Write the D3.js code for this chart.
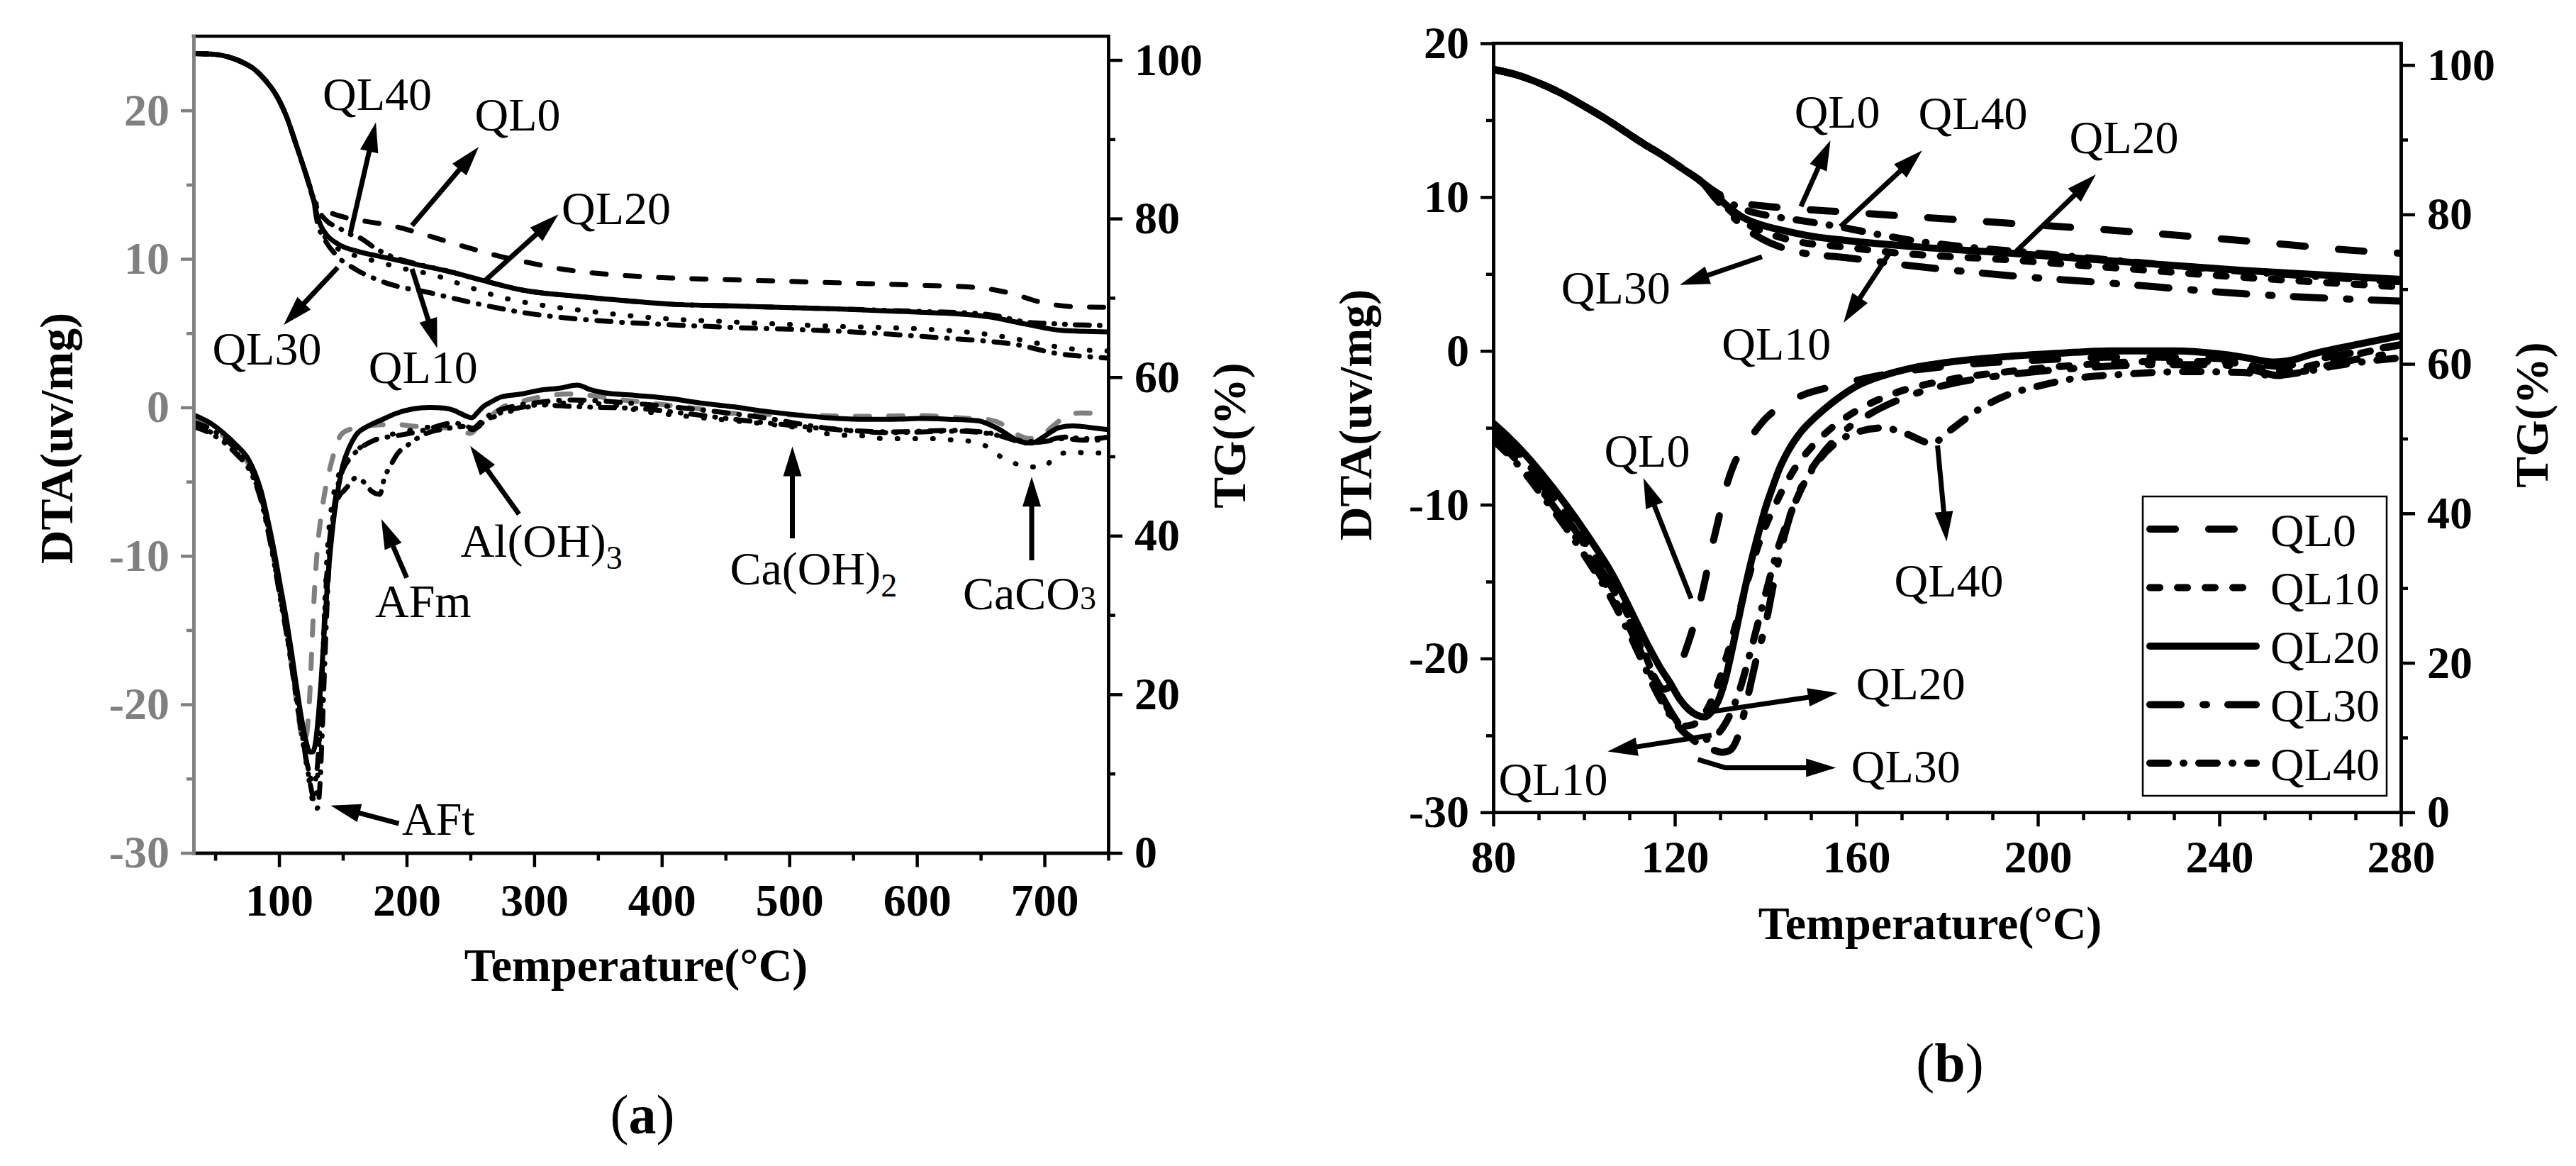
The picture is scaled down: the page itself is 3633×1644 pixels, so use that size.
<!DOCTYPE html>
<html>
<head>
<meta charset="utf-8">
<script src="https://cdn.jsdelivr.net/npm/d3@7"></script>
<style>
  body { margin: 0; background: #fff; }
  svg { display: block; }
</style>
</head>
<body>
<div class="figure"></div>
<script>
// series names and tick labels
const series = ['QL0', 'QL10', 'QL20', 'QL30', 'QL40'];
const aTempTicks = [100, 200, 300, 400, 500, 600, 700];
const aDtaTicks = [-30, -20, -10, 0, 10, 20];
const aTgTicks = [0, 20, 40, 60, 80, 100];
const bTempTicks = [80, 120, 160, 200, 240, 280];
const bDtaTicks = [-30, -20, -10, 0, 10, 20];
const bTgTicks = [0, 20, 40, 60, 80, 100];

// ---- panel (a): TG (%) vs temperature, [T, TG]
const aTgStart = [[33,100.8],[50,100.7],[60,100.4],[70,99.8],[80,98.9],[90,97.3],[98,95.5],[106,92.8],[112,90.0],[118,87.1],[123,84.6],[127,82.4]];
const aTgQL0 = [[131,81.6],[138,80.9],[146,80.4],[163,79.8],[191,79.0],[205,78.4],[228,77.3],[251,76.2],[274,75.2],[297,74.4],[319,73.7],[342,73.2],[364,72.9],[407,72.5],[450,72.3],[537,71.9],[600,71.6],[647,71.3],[673,70.6],[696,69.5],[721,68.9],[750,68.8]];
const aTgQL10 = [[130,80.0],[135,78.0],[146,76.2],[160,75.3],[176,74.6],[200,73.6],[221,72.9],[248,71.4],[276,70.0],[305,69.1],[333,68.5],[378,67.7],[400,67.4],[450,67.0],[537,66.4],[600,66.1],[650,65.5],[675,64.9],[700,64.1],[725,63.5],[750,63.3]];
const aTgQL20 = [[130,80.3],[133,79.0],[137,78.0],[146,76.8],[163,75.8],[180,75.2],[205,74.3],[234,73.3],[262,72.1],[290,71.0],[333,70.2],[375,69.6],[407,69.2],[450,69.0],[537,68.6],[600,68.2],[630,68.0],[657,67.6],[685,66.7],[713,65.9],[750,65.7]];
const aTgQL30 = [[130,79.5],[135,77.6],[146,75.2],[160,73.6],[180,72.1],[222,70.5],[254,69.3],[293,68.1],[361,67.0],[407,66.6],[450,66.3],[537,65.8],[580,65.4],[624,64.9],[650,64.6],[678,64.1],[709,63.0],[741,62.5],[750,62.4]];
const aTgQL40 = [[131,81.0],[138,79.6],[146,78.9],[156,78.0],[163,77.6],[176,76.2],[190,75.1],[205,74.4],[234,73.3],[262,72.1],[290,71.0],[333,70.2],[375,69.6],[407,69.2],[450,69.0],[537,68.6],[600,68.3],[650,68.0],[660,67.8],[688,66.9],[699,66.8],[725,66.6],[750,66.5]];

// ---- panel (a): DTA (uv/mg) vs temperature, [T, DTA]
const aDtaQL0 = [[33,-0.8],[45,-1.2],[56,-1.9],[66,-2.7],[76,-3.8],[81,-4.7],[86,-6.0],[91,-7.9],[96,-10.2],[101,-12.7],[106,-15.2],[110,-17.5],[113,-19.4],[115.5,-21.0],[118,-22.3],[120,-22.6],[122,-21.8],[124,-19.5],[126.3,-15.0],[128,-12.0],[130,-9.6],[132.5,-7.6],[135.5,-5.9],[138.5,-4.6],[141.7,-3.5],[145,-2.5],[149,-1.8],[155,-1.5],[165,-1.3],[190,-1.15],[210,-1.3],[235,-1.4],[244,-1.6],[250,-1.75],[256,-1.3],[262,-0.8],[270,-0.3],[277,0.1],[290,0.4],[305,0.7],[327,0.9],[345,0.8],[360,0.6],[380,0.4],[400,0.2],[430,-0.1],[456,-0.4],[500,-0.5],[560,-0.6],[604,-0.55],[625,-0.65],[640,-0.74],[654,-0.8],[666,-1.1],[676,-1.7],[688,-2.1],[696,-2.0],[706,-1.3],[716,-0.65],[728,-0.37],[740,-0.4],[750,-0.45]];
const aDtaQL10 = [[33,-1.2],[45,-1.6],[56,-2.2],[66,-3.0],[76,-4.0],[81,-4.9],[86,-6.2],[91,-8.1],[96,-10.3],[101,-12.8],[106,-15.2],[110,-17.5],[113,-19.3],[116,-21.1],[119,-22.7],[122,-24.3],[124.5,-25.6],[127,-26.7],[129,-26.2],[131,-23.5],[133,-19.5],[135,-15.0],[137,-11.0],[139,-8.3],[141.5,-6.5],[145,-5.0],[150,-4.0],[158,-3.1],[170,-2.4],[185,-1.9],[200,-1.6],[220,-1.3],[235,-1.2],[245,-1.3],[252,-1.5],[258,-1.2],[265,-0.8],[280,-0.3],[300,0.1],[330,0.3],[360,0.2],[381,-0.2],[420,-0.6],[456,-0.9],[505,-1.35],[537,-1.85],[555,-1.9],[574,-2.1],[615,-2.1],[629,-2.2],[643,-2.3],[654,-2.6],[668,-3.45],[682,-3.9],[690,-4.0],[700,-4.0],[708,-3.3],[722,-3.0],[736,-3.1],[750,-3.0]];
const aDtaQL20 = [[33,-0.5],[45,-1.0],[56,-1.7],[66,-2.5],[76,-3.5],[81,-4.4],[86,-5.65],[91,-7.5],[96,-9.6],[101,-12.0],[106,-14.4],[110,-16.6],[113,-18.4],[116,-20.1],[119,-21.6],[121.5,-22.6],[124,-23.2],[126.5,-23.2],[129,-22.3],[131,-20.6],[133,-18.4],[135.5,-15.0],[138,-11.8],[140.5,-9.4],[143,-7.4],[146.5,-5.4],[150,-3.9],[155,-2.7],[160,-1.9],[170,-1.25],[180,-0.85],[192,-0.4],[205,-0.1],[218,0.0],[230,-0.05],[237,-0.2],[242,-0.4],[247,-0.6],[251,-0.7],[255,-0.4],[260,0.05],[267,0.4],[274,0.7],[290,0.9],[304,1.15],[320,1.3],[334,1.5],[344,1.2],[354,1.0],[381,0.8],[406,0.6],[430,0.3],[456,0.04],[480,-0.25],[505,-0.5],[530,-0.7],[555,-0.8],[580,-0.8],[602,-0.75],[625,-0.8],[648,-0.9],[658,-1.2],[666,-1.55],[674,-2.0],[681,-2.3],[690,-2.4],[699,-2.0],[706,-1.6],[712,-1.35],[722,-1.25],[731,-1.3],[740,-1.4],[750,-1.5]];
const aDtaQL30 = [[33,-1.0],[45,-1.4],[56,-2.0],[66,-2.8],[76,-3.8],[81,-4.7],[86,-6.0],[91,-7.9],[96,-10.1],[101,-12.6],[106,-15.0],[110,-17.2],[113,-19.0],[116,-20.8],[119,-22.5],[122,-24.2],[125,-25.6],[127.5,-26.6],[130,-27.0],[132,-25.5],[134,-21.5],[136,-16.8],[138,-12.6],[140,-9.5],[142.5,-7.2],[146,-5.3],[150,-4.2],[156,-3.4],[163,-2.8],[175,-2.2],[192.5,-1.9],[205,-1.7],[215,-1.5],[237,-1.05],[245,-1.2],[252,-1.4],[258,-1.0],[265,-0.5],[280,0.0],[300,0.3],[330,0.5],[381,0.25],[431,-0.17],[480,-0.7],[535,-1.45],[580,-1.65],[629,-1.55],[655,-1.7],[672,-2.1],[686,-2.4],[700,-2.3],[716,-2.1],[730,-2.2],[740,-2.2],[750,-2.1]];
const aDtaQL40 = [[33,-1.3],[45,-1.7],[56,-2.3],[66,-3.1],[76,-4.1],[81,-5.0],[86,-6.3],[91,-8.2],[96,-10.4],[101,-12.9],[106,-15.3],[110,-17.5],[113,-19.2],[116,-21.0],[119,-22.6],[122,-24.0],[125,-25.0],[127.5,-25.3],[130,-24.2],[132,-21.5],[134,-17.5],[136,-13.5],[138,-10.5],[140,-8.6],[143,-7.1],[147,-6.0],[151,-5.6],[155,-5.2],[160,-4.75],[166,-5.0],[172.7,-5.65],[179,-5.85],[182.6,-4.75],[187.5,-3.9],[193,-3.1],[200,-2.6],[208,-2.1],[217,-1.7],[230,-1.45],[242,-1.3],[248,-1.4],[252,-1.5],[260,-1.0],[270,-0.5],[279,-0.2],[290,0.0],[304,0.17],[329,0.07],[350,0.0],[378.6,-0.06],[418,-0.4],[456,-0.8],[500,-1.2],[537,-1.5],[580,-1.7],[629,-1.6],[655,-1.75],[672,-2.05],[686,-2.3],[700,-2.25],[716,-2.0],[730,-2.1],[740,-2.1],[750,-2.0]];

// ---- panel (b): TG (%) vs temperature, [T, TG]
const bTgStart = [[80,99.4],[85,98.7],[90,97.6],[95,96.2],[100,94.5],[105,92.7],[109,91.1],[113,89.5],[117.6,87.8],[122,86.0],[126,84.3]];
const bTgQL0 = [[129,83.0],[132,82.0],[135,81.5],[140,81.1],[143.5,80.9],[158,80.3],[187,79.1],[216,77.9],[245,76.5],[274,75.0],[280,74.8]];
const bTgQL10 = [[129,82.4],[132,80.6],[135,79.1],[140,77.6],[146,76.5],[158,75.6],[168,74.9],[194,73.9],[216,72.9],[245,71.6],[280,70.3]];
const bTgQL20 = [[129,82.6],[132,80.9],[135,79.6],[139,78.6],[143.5,77.9],[150,77.1],[158,76.5],[172.5,75.7],[194,74.8],[216,73.8],[245,72.5],[280,71.3]];
const bTgQL30 = [[129,82.1],[132,80.2],[135,78.4],[139,76.8],[143,75.7],[147,75.0],[158,74.2],[172.5,73.1],[194,71.8],[216,70.8],[245,69.4],[280,68.4]];
const bTgQL40 = [[129,82.8],[132,81.6],[136,80.5],[141,79.8],[146.5,79.3],[156.6,78.3],[165,77.3],[172.5,76.5],[185,75.6],[200,74.8],[216,73.9],[245,72.4],[280,71.0]];

// ---- panel (b): DTA (uv/mg) vs temperature, [T, DTA]
const bDtaQL0 = [[80,-5.3],[86,-7.0],[91,-8.8],[96,-10.8],[101,-13.0],[106,-15.3],[110,-17.6],[113,-19.6],[115.5,-21.2],[117.5,-22.0],[119,-21.8],[120.5,-20.9],[122,-19.8],[123.5,-18.5],[125,-17.0],[126.6,-15.0],[128,-13.0],[129.6,-11.0],[131,-9.2],[133,-7.4],[135,-6.3],[137,-5.5],[140,-4.4],[144,-3.5],[148,-2.9],[155,-2.3],[165,-1.6],[180,-1.0],[200,-0.6],[220,-0.4],[240,-0.5],[246,-0.7],[253,-1.0],[258,-0.8],[264,-0.4],[272,0.0],[280,0.4]];
const bDtaQL10 = [[80,-5.0],[86,-6.8],[91,-8.6],[96,-10.6],[101,-12.8],[106,-15.0],[110,-17.4],[113,-19.4],[116,-21.6],[118,-23.0],[120,-24.0],[122,-24.4],[124,-24.3],[126,-23.8],[128,-22.8],[130,-21.2],[132,-19.3],[134,-17.2],[136,-15.0],[138,-13.0],[140,-11.4],[142,-10.1],[144,-8.9],[147,-7.4],[150,-6.3],[155,-4.9],[160,-3.9],[168,-2.8],[180,-1.9],[195,-1.3],[210,-0.9],[225,-0.7],[240,-0.7],[246,-0.9],[253,-1.3],[258,-1.1],[265,-0.6],[272,-0.1],[280,0.4]];
const bDtaQL20 = [[80,-4.7],[83,-5.5],[86,-6.4],[91,-8.1],[96,-10.0],[101,-12.1],[106,-14.4],[110,-16.7],[114,-19.1],[117,-20.7],[119,-21.6],[121,-22.6],[123,-23.3],[125,-23.7],[126.5,-23.8],[128,-23.5],[129.5,-22.8],[131,-21.5],[132.5,-19.6],[134,-17.5],[135.5,-15.4],[137,-13.5],[138.5,-11.8],[140,-10.2],[141.5,-8.9],[143,-7.7],[145,-6.5],[148,-5.2],[151,-4.3],[155,-3.3],[160,-2.3],[166,-1.6],[172.5,-1.1],[180,-0.75],[194,-0.35],[205,-0.15],[216,0.0],[230,0.0],[240,-0.2],[245,-0.4],[252,-0.73],[256,-0.6],[260,-0.25],[270,0.4],[280,1.0]];
const bDtaQL30 = [[80,-5.5],[86,-7.4],[91,-9.2],[96,-11.2],[101,-13.4],[106,-15.8],[110,-18.0],[113,-19.9],[116,-21.8],[119,-23.4],[122,-24.7],[125,-25.5],[128,-25.9],[130.5,-26.1],[132,-26.0],[134,-25.0],[136,-22.6],[138,-20.0],[140,-17.8],[142,-14.8],[144,-12.2],[146,-10.2],[148.5,-8.5],[152,-6.9],[157,-5.3],[163,-4.1],[170,-3.1],[180,-2.2],[195,-1.5],[210,-1.1],[225,-0.9],[240,-0.9],[247,-1.2],[253,-1.6],[259,-1.3],[266,-0.8],[273,-0.4],[280,-0.1]];
const bDtaQL40 = [[80,-5.8],[86,-7.6],[91,-9.5],[96,-11.5],[101,-13.7],[106,-16.1],[110,-18.4],[113,-20.3],[116,-22.2],[119,-23.7],[122,-24.8],[125,-25.3],[128,-25.2],[131,-24.3],[134,-22.3],[137,-19.2],[140,-15.8],[143,-12.6],[145.5,-10.6],[148,-8.9],[151,-7.4],[155,-6.1],[160,-5.3],[166,-5.0],[171,-5.4],[176.6,-6.0],[181,-5.1],[186,-4.0],[193,-2.9],[200,-2.3],[206,-1.9],[220,-1.5],[233,-1.35],[245,-1.4],[252,-1.6],[258,-1.4],[265,-1.0],[272,-0.7],[280,-0.45]];

// annotations: label position and arrow points are in data units (T, DTA)
const aNotes = [
  {parts: [['QL40']], at: [177, 20.05], anchor: 'middle', arrow: [[156, 11.76], [175.9, 19.2]]},
  {parts: [['QL0']], at: [287, 18.64], anchor: 'middle', arrow: [[204.2, 12.25], [256.5, 17.54]]},
  {parts: [['QL20']], at: [364.3, 12.33], anchor: 'middle', arrow: [[260.9, 8.49], [319, 13.0]]},
  {parts: [['QL30']], at: [90.5, 2.88], anchor: 'middle', arrow: [[146, 9.42], [103.6, 5.55]]},
  {parts: [['QL10']], at: [213, 1.64], anchor: 'middle', arrow: [[204.2, 9.33], [224, 3.98]]},
  {parts: [['AFm']], at: [213, -14.1], anchor: 'middle', arrow: [[200.1, -11.47], [180.2, -7.52]]},
  {parts: [['Al(OH)'], ['3', 'sub']], at: [242.2, -10.04], anchor: 'start', arrow: [[288.1, -7.19], [249.8, -2.59]]},
  {parts: [['AFt']], at: [196.4, -28.78], anchor: 'start', arrow: [[193.9, -28.02], [140.5, -26.81]]},
  {parts: [['Ca(OH)'], ['2', 'sub']], at: [453.5, -11.9], anchor: 'start', arrow: [[502.4, -8.82], [502.4, -2.63]]},
  {parts: [['CaCO'], ['3', 'small']], at: [636, -13.6], anchor: 'start', arrow: [[690, -10.3], [690, -4.67]]}
];
const bNotes = [
  {parts: [['QL0']], at: [155.8, 14.51], anchor: 'middle', arrow: [[147.8, 9.39], [154.3, 13.68]]},
  {parts: [['QL40']], at: [185.7, 14.42], anchor: 'middle', arrow: [[156.5, 8.08], [174.5, 13.02]]},
  {parts: [['QL20']], at: [219, 12.85], anchor: 'middle', arrow: [[194.8, 6.35], [212.8, 11.47]]},
  {parts: [['QL30']], at: [107, 3.06], anchor: 'middle', arrow: [[139.2, 6.12], [121.1, 4.29]]},
  {parts: [['QL10']], at: [142.4, -0.57], anchor: 'middle', arrow: [[167.3, 6.35], [157.2, 1.83]]},
  {parts: [['QL0']], at: [113.9, -7.53], anchor: 'middle', arrow: [[123.6, -16.1], [113.1, -8.27]]},
  {parts: [['QL40']], at: [180.4, -15.99], anchor: 'middle', arrow: [[177.9, -6.15], [179.9, -12.39]]},
  {parts: [['QL20']], at: [172, -22.65], anchor: 'middle', arrow: [[127, -23.5], [155.9, -22.24]]},
  {parts: [['QL10']], at: [93.2, -28.9], anchor: 'middle', arrow: [[128.1, -24.98], [105.2, -26.04]]},
  {parts: [['QL30']], at: [170.9, -28.05], anchor: 'middle', arrow: [[125.1, -26.57], [131.1, -27.1], [155.5, -27.1]]}
];

// ---- styles
const FONT = '"Liberation Serif", "Times New Roman", Times, serif';
const GREY = '#808080';
const aDash = {QL0: '20,27', QL10: '1,24', QL20: null, QL30: '20,15,1,15', QL40: '20,14,1,14,1,14'};
const bDash = {QL0: '36,47', QL10: '14,25', QL20: null, QL30: '44,31,5,30', QL40: '26,21,1,21'};

const svg = d3.select('.figure').append('svg')
  .attr('width', 3633).attr('height', 1644)
  .style('background', '#fff');

const panels = [
  {id: 'a', left: 273, right: 1563, top: 51, bottom: 1202.5,
   tDomain: [33, 750], dDomain: [-30, 25], gDomain: [0, 103],
   tTicks: aTempTicks, tMinor: d3.range(50, 751, 100), dTicks: aDtaTicks, dMinor: d3.range(-25, 25, 10),
   gTicks: aTgTicks, gMinor: d3.range(10, 100, 20),
   tg: {QL0: aTgStart.concat(aTgQL0), QL10: aTgStart.concat(aTgQL10), QL20: aTgStart.concat(aTgQL20), QL30: aTgStart.concat(aTgQL30), QL40: aTgStart.concat(aTgQL40)},
   dta: {QL0: aDtaQL0, QL10: aDtaQL10, QL20: aDtaQL20, QL30: aDtaQL30, QL40: aDtaQL40},
   dash: aDash, lw: 7, dtaColor: {QL0: GREY}, leftColor: GREY, xPad: 23, notes: aNotes,
   dtaTitle: [102, 618], tgTitle: [1756, 614], xTitle: [897, 1383], tag: [906, 1598], tagText: 'a'},
  {id: 'b', left: 2106, right: 3386, top: 61, bottom: 1145.3,
   tDomain: [80, 280], dDomain: [-30, 20], gDomain: [0, 102.9],
   tTicks: bTempTicks, tMinor: d3.range(90, 280, 10).filter(v => (v - 80) % 40 !== 0), dTicks: bDtaTicks, dMinor: d3.range(-25, 20, 10),
   gTicks: bTgTicks, gMinor: d3.range(10, 100, 20),
   tg: {QL0: bTgStart.concat(bTgQL0), QL10: bTgStart.concat(bTgQL10), QL20: bTgStart.concat(bTgQL20), QL30: bTgStart.concat(bTgQL30), QL40: bTgStart.concat(bTgQL40)},
   dta: {QL0: bDtaQL0, QL10: bDtaQL10, QL20: bDtaQL20, QL30: bDtaQL30, QL40: bDtaQL40},
   dash: bDash, lw: 10, dtaColor: {}, leftColor: '#000', xPad: 19, notes: bNotes,
   dtaTitle: [1934, 585], tgTitle: [3593, 585], xTitle: [2722, 1324], tag: [2750, 1525], tagText: 'b',
   legend: {x: 3022, y: 700, w: 344, h: 422}}
];

function styleAxis(sel, color, fs) {
  sel.attr('font-family', FONT).attr('font-size', fs).attr('font-weight', 'bold');
  sel.select('.domain').attr('stroke', color).attr('stroke-width', 4.5).attr('stroke-linecap', 'square');
  sel.selectAll('.tick line').attr('stroke', color).attr('stroke-width', 4.5);
  sel.selectAll('.tick text').attr('fill', color);
}

function arrow(g, pts, x, y) {
  const p = pts.map(d => [x(d[0]), y(d[1])]);
  const n = p.length;
  const [x1, y1] = p[n - 2], [x2, y2] = p[n - 1];
  const len = Math.hypot(x2 - x1, y2 - y1);
  const ux = (x2 - x1) / len, uy = (y2 - y1) / len;
  const head = 42, half = 13;
  const line = p.slice(0, n - 1).concat([[x2 - ux * (head - 6), y2 - uy * (head - 6)]]);
  g.append('path').attr('d', d3.line()(line))
    .attr('fill', 'none').attr('stroke', '#000').attr('stroke-width', 7).attr('stroke-linejoin', 'round');
  const bx = x2 - ux * head, by = y2 - uy * head;
  g.append('path')
    .attr('d', `M${x2},${y2}L${bx - uy * half},${by + ux * half}L${bx + uy * half},${by - ux * half}Z`)
    .attr('fill', '#000');
}

panels.forEach(p => {
  const g = svg.append('g').attr('class', 'panel-' + p.id);
  const x = d3.scaleLinear().domain(p.tDomain).range([p.left, p.right]);
  const yD = d3.scaleLinear().domain(p.dDomain).range([p.bottom, p.top]);
  const yG = d3.scaleLinear().domain(p.gDomain).range([p.bottom, p.top]);

  svg.append('clipPath').attr('id', 'clip-' + p.id)
    .append('rect').attr('x', p.left).attr('y', p.top)
    .attr('width', p.right - p.left).attr('height', p.bottom - p.top);
  const plot = g.append('g').attr('clip-path', `url(#clip-${p.id})`);

  // curves
  const lineD = d3.line().x(d => x(d[0])).y(d => yD(d[1])).curve(d3.curveMonotoneX);
  const lineG = d3.line().x(d => x(d[0])).y(d => yG(d[1])).curve(d3.curveMonotoneX);
  series.forEach(s => {
    plot.append('path').attr('d', lineG(p.tg[s]))
      .attr('fill', 'none').attr('stroke', '#000').attr('stroke-width', p.lw)
      .attr('stroke-linecap', 'round').attr('stroke-linejoin', 'round')
      .attr('stroke-dasharray', p.dash[s]);
    plot.append('path').attr('d', lineD(p.dta[s]))
      .attr('fill', 'none').attr('stroke', p.dtaColor[s] || '#000').attr('stroke-width', p.lw)
      .attr('stroke-linecap', 'round').attr('stroke-linejoin', 'round')
      .attr('stroke-dasharray', p.dash[s]);
  });

  // frame top line
  g.append('line').attr('x1', p.left).attr('x2', p.right).attr('y1', p.top).attr('y2', p.top)
    .attr('stroke', '#000').attr('stroke-width', 4.5).attr('stroke-linecap', 'square');

  // bottom axis
  g.append('g').attr('transform', `translate(0,${p.bottom})`)
    .call(d3.axisBottom(x).tickValues(p.tMinor).tickSize(11).tickSizeOuter(0).tickFormat(''))
    .call(a => styleAxis(a, '#000', 64));
  g.append('g').attr('transform', `translate(0,${p.bottom})`)
    .call(d3.axisBottom(x).tickValues(p.tTicks).tickSize(20).tickSizeOuter(0).tickPadding(p.xPad).tickFormat(d => String(d)))
    .call(a => styleAxis(a, '#000', 64));

  // right TG axis
  g.append('g').attr('transform', `translate(${p.right},0)`)
    .call(d3.axisRight(yG).tickValues(p.gMinor).tickSize(10).tickSizeOuter(0).tickFormat(''))
    .call(a => styleAxis(a, '#000', 64));
  g.append('g').attr('transform', `translate(${p.right},0)`)
    .call(d3.axisRight(yG).tickValues(p.gTicks).tickSize(20).tickSizeOuter(0).tickPadding(17).tickFormat(d => String(d)))
    .call(a => styleAxis(a, '#000', 64));

  // left DTA axis
  g.append('g').attr('transform', `translate(${p.left},0)`)
    .call(d3.axisLeft(yD).tickValues(p.dMinor).tickSize(10).tickSizeOuter(0).tickFormat(''))
    .call(a => styleAxis(a, p.leftColor, 64));
  g.append('g').attr('transform', `translate(${p.left},0)`)
    .call(d3.axisLeft(yD).tickValues(p.dTicks).tickSize(18).tickSizeOuter(0).tickPadding(16).tickFormat(d => String(d)))
    .call(a => styleAxis(a, p.leftColor, 64));

  // axis titles
  const title = (pos, txt, rot) => g.append('text')
    .attr('transform', `translate(${pos[0]},${pos[1]})` + (rot ? ' rotate(-90)' : ''))
    .attr('text-anchor', 'middle').attr('font-family', FONT).attr('font-size', 66)
    .attr('font-weight', 'bold').attr('fill', '#000').text(txt);
  title(p.dtaTitle, 'DTA(uv/mg)', true);
  title(p.tgTitle, 'TG(%)', true);
  title(p.xTitle, 'Temperature(\u00B0C)', false);

  // panel tag
  const tag = g.append('text').attr('x', p.tag[0]).attr('y', p.tag[1])
    .attr('text-anchor', 'middle').attr('font-family', FONT).attr('font-size', 78).attr('fill', '#000');
  tag.append('tspan').text('(');
  tag.append('tspan').attr('font-weight', 'bold').text(p.tagText);
  tag.append('tspan').text(')');

  // annotations
  const notes = g.append('g').attr('class', 'notes');
  p.notes.forEach(n => {
    arrow(notes, n.arrow, x, yD);
    const t = notes.append('text').attr('x', x(n.at[0])).attr('y', yD(n.at[1]))
      .attr('text-anchor', n.anchor).attr('font-family', FONT).attr('font-size', 66).attr('fill', '#000');
    n.parts.forEach(part => {
      const ts = t.append('tspan').text(part[0]);
      if (part[1] === 'sub') ts.attr('font-size', 46).attr('dy', 17);
      if (part[1] === 'small') ts.attr('font-size', 46);
    });
  });

  // legend
  if (p.legend) {
    const L = p.legend;
    const lg = g.append('g').attr('class', 'legend');
    lg.append('rect').attr('x', L.x).attr('y', L.y).attr('width', L.w).attr('height', L.h)
      .attr('fill', '#fff').attr('stroke', '#000').attr('stroke-width', 2.5);
    series.forEach((s, i) => {
      const cy = L.y + 46 + i * 82.5;
      lg.append('line').attr('x1', L.x + 10).attr('x2', L.x + 160).attr('y1', cy).attr('y2', cy)
        .attr('stroke', '#000').attr('stroke-width', p.lw).attr('stroke-linecap', 'round')
        .attr('stroke-dasharray', p.dash[s]);
      lg.append('text').attr('x', L.x + 180).attr('y', cy + 23.5)
        .attr('font-family', FONT).attr('font-size', 66).attr('fill', '#000').text(s);
    });
  }
});
</script>
</body>
</html>
